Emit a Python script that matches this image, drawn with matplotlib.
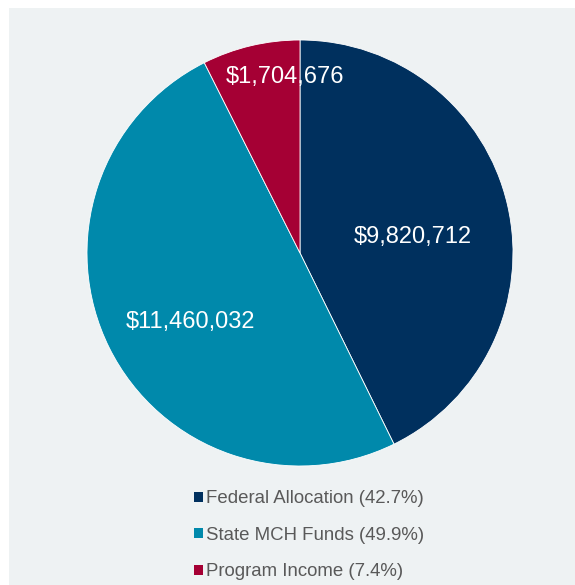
import matplotlib
matplotlib.use("Agg")
import matplotlib.pyplot as plt
from matplotlib.patches import Rectangle

# data
categories = ["Federal Allocation", "State MCH Funds", "Program Income"]
amounts = [9820712, 11460032, 1704676]
percents = [42.7, 49.9, 7.4]
colors = ["#00305e", "#0089ab", "#a50034"]
# label spots, in pie units (radius = 1)
label_pos = [(0.53, 0.075), (-0.514, -0.325), (-0.07, 0.825)]

plt.rcParams["font.family"] = ["Liberation Sans", "DejaVu Sans"]

fig = plt.figure(figsize=(5.75, 5.85), dpi=100)
fig.patch.set_facecolor("white")
fig.patches.append(Rectangle((9 / 575, 0), 1, 1 - 8 / 585, transform=fig.transFigure,
                             facecolor="#eef2f3", edgecolor="none", zorder=-5))

# pie centre (300, 253) px, radius 213 px
ax = fig.add_axes([(300 - 213) / 575, (585 - 253 - 213) / 585, 426 / 575, 426 / 585])
ax.set_zorder(2)
ax.set_facecolor("none")
wedges, _ = ax.pie(amounts, colors=colors, startangle=90, counterclock=False,
                   radius=1, wedgeprops=dict(edgecolor="white", linewidth=0.6))
ax.set_xlim(-1, 1)
ax.set_ylim(-1, 1)
ax.set_aspect("equal")

for amt, (x, y) in zip(amounts, label_pos):
    ax.text(x, y, "${:,}".format(amt), color="white", fontsize=17,
            ha="center", va="center")

labels = ["%s (%.1f%%)" % (c, p) for c, p in zip(categories, percents)]
leg = fig.legend(wedges, labels, loc="upper left", bbox_to_anchor=(185 / 575, 1 - 481 / 585),
                 frameon=False, fontsize=13.4, handlelength=0.45, handleheight=0.45,
                 handletextpad=0.2, labelspacing=1.05, borderpad=0)
leg.set_zorder(3)
for t in leg.get_texts():
    t.set_color("#595959")
for h in leg.legend_handles:
    h.set_edgecolor("none")

fig.savefig("out.png", dpi=100, facecolor=fig.get_facecolor())
